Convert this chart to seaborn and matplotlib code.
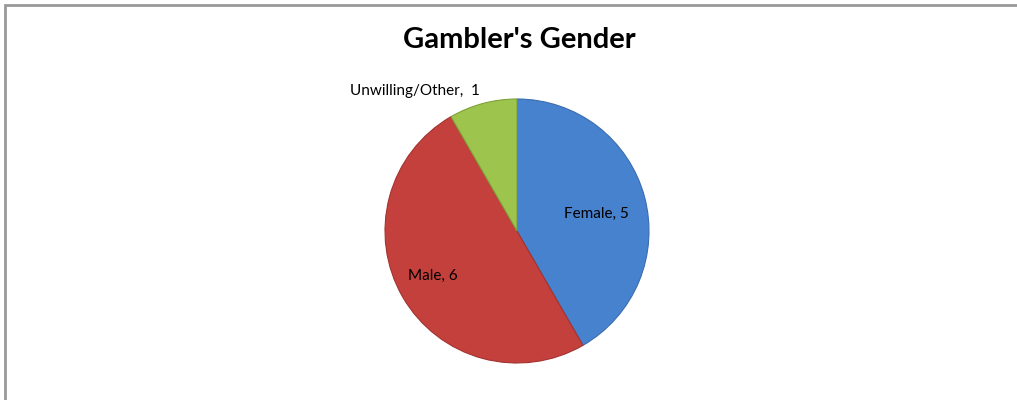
import matplotlib
matplotlib.use('Agg')
import matplotlib.pyplot as plt
import matplotlib.patches as mpatches
import seaborn as sns

# data
categories = ['Female', 'Male', 'Unwilling/Other']
counts = [5, 6, 1]
label_texts = ['Female, 5', 'Male, 6', 'Unwilling/Other,  1']

sns.set_theme(style='white')
plt.rcParams['font.family'] = ['Lato', 'DejaVu Sans']

colors = ['#4782CF', '#C4403C', '#9DC44C']
edge_colors = ['#3A6CB0', '#A3332F', '#7FA03A']

W, H = 1017, 400
fig = plt.figure(figsize=(W / 100, H / 100), dpi=100)

# outer chart frame
frame = mpatches.Rectangle((5 / W, -0.05), 1.2, (395 / H) + 0.05, transform=fig.transFigure,
                           fill=False, edgecolor='#999999', linewidth=2)
fig.patches.append(frame)

fig.text(519 / W, 1 - 40 / H, "Gambler's Gender", ha='center', va='center',
         fontsize=21, fontweight='bold', color='black')

cx, cy, r = 517, 231, 132
ax = fig.add_axes([(cx - r) / W, (H - cy - r) / H, 2 * r / W, 2 * r / H])
wedges, _ = ax.pie(counts, colors=colors, startangle=90, counterclock=False,
                   wedgeprops=dict(linewidth=0.8))
for w, ec in zip(wedges, edge_colors):
    w.set_edgecolor(ec)
ax.set_xlim(-1, 1)
ax.set_ylim(-1, 1)
ax.set_aspect('auto')
ax.axis('off')

# label positions (pie data coords)
label_pos = [(0.60, 0.13), (-0.64, -0.34), (-0.77, 1.06)]
for (lx, ly), txt in zip(label_pos, label_texts):
    ax.text(lx, ly, txt, ha='center', va='center', fontsize=11, color='black', clip_on=False)

fig.savefig('out.png', dpi=100)
